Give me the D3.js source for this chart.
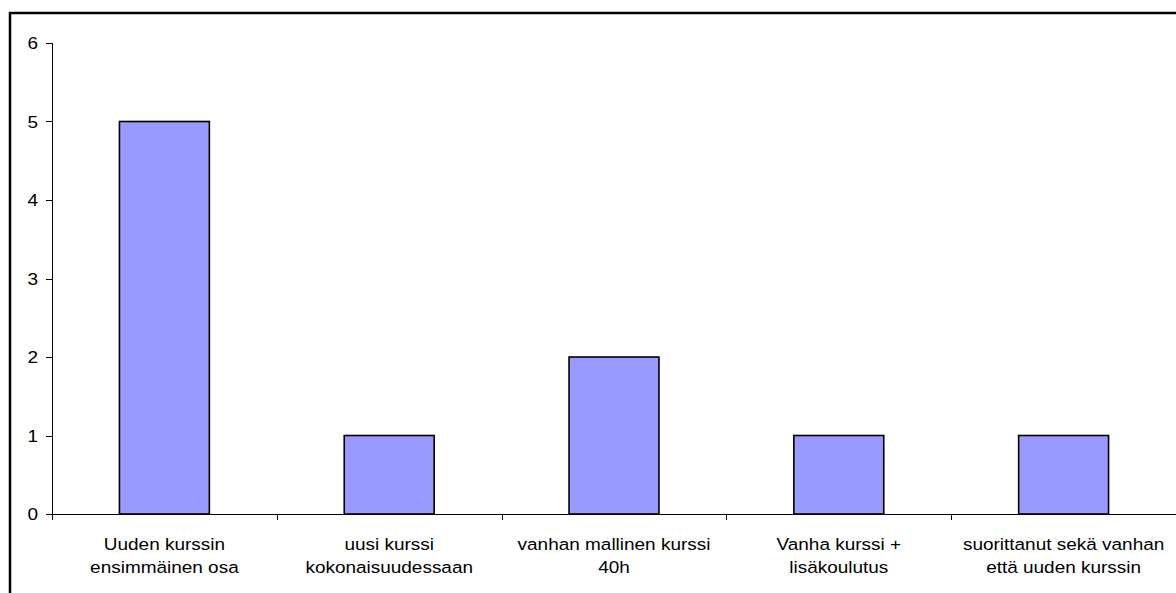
<!DOCTYPE html>
<html>
<head>
<meta charset="utf-8">
<script src="https://cdn.jsdelivr.net/npm/d3@7"></script>
<style>
  html, body { margin: 0; padding: 0; background: #fff; }
  svg { display: block; }
  text { font-family: "Liberation Sans", Arial, sans-serif; fill: #000; }
</style>
</head>
<body>
<svg id="chart" width="1176" height="593"></svg>
<script>
// Category labels (each split into its two printed lines)
const categories = [
  ["Uuden kurssin", "ensimmäinen osa"],
  ["uusi kurssi", "kokonaisuudessaan"],
  ["vanhan mallinen kurssi", "40h"],
  ["Vanha kurssi +", "lisäkoulutus"],
  ["suorittanut sekä vanhan", "että uuden kurssin"]
];
const values = [5, 1, 2, 1, 1];
const yTicks = [0, 1, 2, 3, 4, 5, 6];

const svg = d3.select("#chart");
const fontSize = 16.5;
const stretch = 1.15; // glyphs are drawn slightly wide

const plot = { left: 52, right: 1176, top: 43, bottom: 514 };
const keys = categories.map((c, i) => i);

const x = d3.scaleBand()
  .domain(keys)
  .range([plot.left, plot.right])
  .paddingInner(0.6)
  .paddingOuter(0.3);

const y = d3.scaleLinear()
  .domain([0, 6])
  .range([plot.bottom, plot.top]);

// Outer chart frame
svg.append("rect")
  .attr("x", 10).attr("y", 13)
  .attr("width", 1300).attr("height", 800)
  .attr("fill", "none")
  .attr("stroke", "#000")
  .attr("stroke-width", 2.5);

// Bars
svg.append("g").selectAll("rect")
  .data(values)
  .join("rect")
  .attr("x", (d, i) => x(i))
  .attr("y", d => y(d))
  .attr("width", x.bandwidth())
  .attr("height", d => y(0) - y(d))
  .attr("fill", "#9999ff")
  .attr("stroke", "#000")
  .attr("stroke-width", 1.6);

// Y axis line and ticks
const yAxis = svg.append("g").attr("stroke", "#000").attr("stroke-width", 1);
yAxis.append("line")
  .attr("x1", plot.left + 0.5).attr("x2", plot.left + 0.5)
  .attr("y1", y(6)).attr("y2", y(0) + 6);
yAxis.selectAll("line.tick")
  .data(yTicks)
  .join("line")
  .attr("class", "tick")
  .attr("x1", plot.left - 6).attr("x2", plot.left + 0.5)
  .attr("y1", d => Math.round(y(d)) + 0.5)
  .attr("y2", d => Math.round(y(d)) + 0.5);

svg.append("g").selectAll("text")
  .data(yTicks)
  .join("text")
  .attr("transform", d => `translate(${plot.left - 14},${y(d) + 6}) scale(${stretch},1)`)
  .attr("text-anchor", "end")
  .attr("font-size", fontSize)
  .text(d => d);

// X axis line and category boundary ticks
const xAxis = svg.append("g").attr("stroke", "#000").attr("stroke-width", 1);
xAxis.append("line")
  .attr("x1", plot.left).attr("x2", plot.right)
  .attr("y1", Math.round(y(0)) + 0.5).attr("y2", Math.round(y(0)) + 0.5);
const step = x.step();
const x0 = plot.left;
xAxis.selectAll("line.tick")
  .data(d3.range(categories.length + 1))
  .join("line")
  .attr("class", "tick")
  .attr("x1", i => Math.round(x0 + i * step) + 0.5)
  .attr("x2", i => Math.round(x0 + i * step) + 0.5)
  .attr("y1", y(0)).attr("y2", y(0) + 6);

// Category labels
const labels = svg.append("g").selectAll("g")
  .data(categories)
  .join("g")
  .attr("transform", (d, i) => `translate(${x(i) + x.bandwidth() / 2},0)`);
labels.selectAll("text")
  .data(d => d)
  .join("text")
  .attr("transform", (d, j) => `translate(0,${549.5 + j * 23}) scale(${stretch},1)`)
  .attr("text-anchor", "middle")
  .attr("font-size", fontSize)
  .text(d => d);
</script>
</body>
</html>
